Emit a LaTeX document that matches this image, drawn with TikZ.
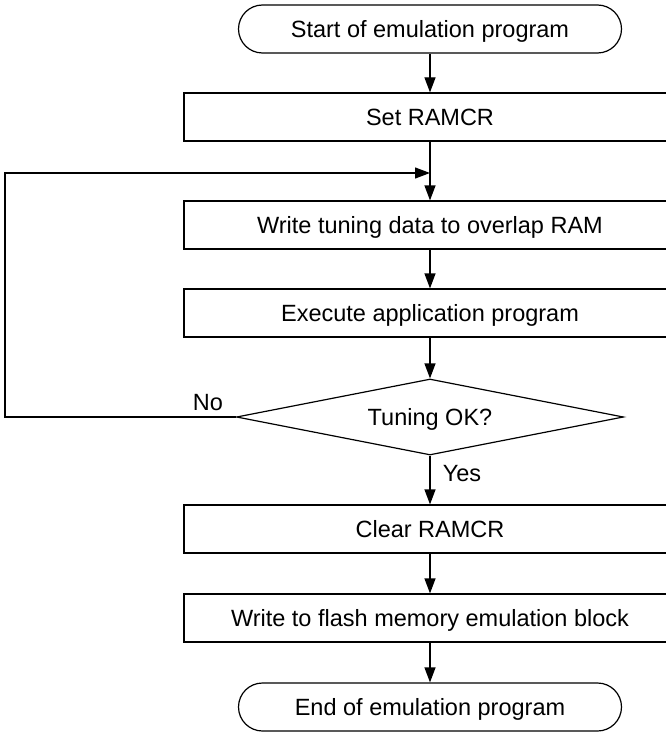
\documentclass[tikz,border=0pt]{standalone}
\usepackage{fontspec}
\setmainfont{Liberation Sans}
\usetikzlibrary{arrows.meta,shapes.geometric}
\begin{document}
\begin{tikzpicture}[x=1pt,y=-1pt,
  every node/.style={font=\fontsize{23.5}{26}\selectfont, inner sep=0pt, text height=16.8pt, text depth=0pt},
  boxn/.style={draw, line width=1.2pt, minimum width=492pt, minimum height=48pt},
  term/.style={draw, line width=1.2pt, rounded corners=24pt, minimum width=383pt, minimum height=48pt},
  dec/.style={draw, line width=1.2pt, shape=diamond, aspect=5.09, minimum width=387pt, minimum height=76pt},
  arr/.style={line width=1.2pt, -{Triangle[length=15pt,width=11pt]}},
  lbl/.style={}]
\useasboundingbox (0,0) rectangle (666,733);
\clip (0,0) rectangle (666,733);
\node[term] (start) at (430,29) {Start of emulation program};
\node[boxn] (set) at (430,117) {Set RAMCR};
\node[boxn] (write) at (430,225) {Write tuning data to overlap RAM};
\node[boxn] (exec) at (430,313) {Execute application program};
\node[dec] (dia) at (430,417) {Tuning OK?};
\node[boxn] (clr) at (430,529) {Clear RAMCR};
\node[boxn] (flash) at (430,618) {Write to flash memory emulation block};
\node[term] (end) at (430,707) {End of emulation program};
\coordinate (j) at (430,173);
\coordinate (lx) at (5,417);
\draw[arr] (start) -- (set);
\draw[arr] (set) -- (write);
\draw[arr] (write) -- (exec);
\draw[arr] (exec) -- (dia);
\draw[arr] (dia) -- (clr);
\draw[arr] (clr) -- (flash);
\draw[arr] (flash) -- (end);
\draw[arr] (dia.west) -- (lx) |- (j);
\node[lbl] (no) at (208,402) {No};
\node[lbl] (yes) at (462,473) {Yes};
\end{tikzpicture}
\end{document}
